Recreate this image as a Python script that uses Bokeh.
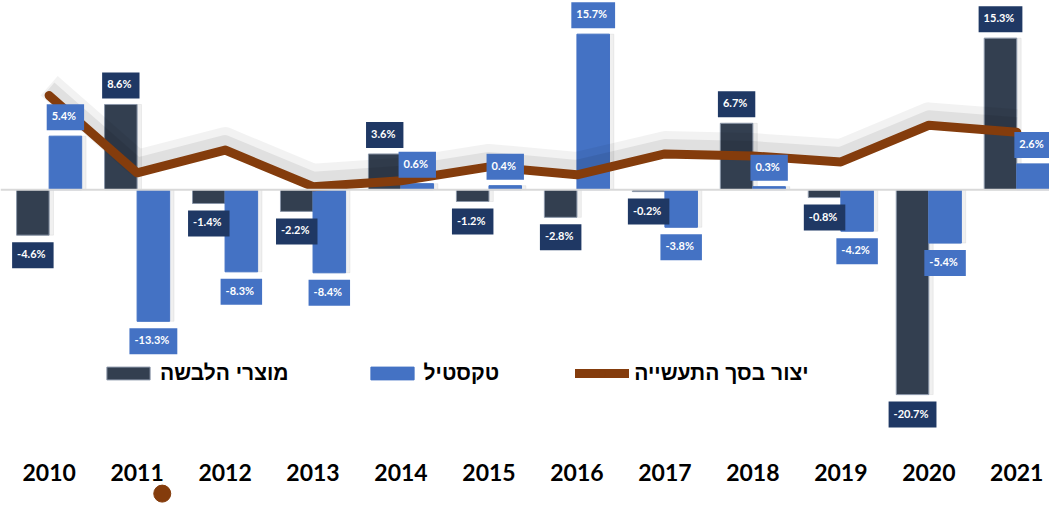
from bokeh.plotting import figure
from bokeh.models import ColumnDataSource, Range1d, Span, Legend, LegendItem
from bokeh.core.properties import value
from bokeh.embed import file_html
from bokeh.resources import INLINE

years = ["2010", "2011", "2012", "2013", "2014", "2015", "2016", "2017", "2018", "2019", "2020", "2021"]
apparel = [-4.6, 8.6, -1.4, -2.2, 3.6, -1.2, -2.8, -0.2, 6.7, -0.8, -20.7, 15.3]      # מוצרי הלבשה
textile = [5.4, -13.3, -8.3, -8.4, 0.6, 0.4, 15.7, -3.8, 0.3, -4.2, -5.4, 2.6]        # טקסטיל
industry = [9.5, 1.7, 4.0, 0.3, 0.9, 2.3, 1.5, 3.6, 3.4, 2.8, 6.5, 5.8]               # יצור בסך התעשייה (estimated)

names = ["מוצרי הלבשה", "טקסטיל", "יצור בסך התעשייה"]

DARK = "#333F50"
BLUE = "#4472C4"
NAVY = "#1F3864"
BROWN = "#843C0C"

idx = list(range(len(years)))
W, H = 1049, 505
p = figure(width=W, height=H, x_range=Range1d(-0.5528, 11.372), y_range=Range1d(-31.9, 19.1),
           output_backend="svg", toolbar_location=None, x_axis_location=None, y_axis_location=None,
           min_border=0, outline_line_color=None)
p.grid.visible = False
p.background_fill_color = "white"

p.add_layout(Span(location=0, dimension="width", line_color="#D9D9D9", line_width=2))

bw = 0.37
off = 0.185
src_d = ColumnDataSource(dict(x=[i - off for i in idx], top=apparel,
                              lbl=[f"{v:.1f}%" for v in apparel],
                              yo=[-19 if v > 0 else 20 for v in apparel]))
src_b = ColumnDataSource(dict(x=[i + off for i in idx], top=textile,
                              lbl=[f"{v:.1f}%" for v in textile],
                              yo=[-19 if v > 0 else 20 for v in textile]))

# subtle bar shadows
p.vbar(x=[i - off + 0.05 for i in idx], top=apparel, width=bw, color="#000000", alpha=0.06)
p.vbar(x=[i + off + 0.05 for i in idx], top=textile, width=bw, color="#000000", alpha=0.06)

r_d = p.vbar(x="x", top="top", width=bw, source=src_d, fill_color=DARK, line_color="#8A96A8", line_width=1)
r_b = p.vbar(x="x", top="top", width=bw, source=src_b, fill_color=BLUE, line_color=BLUE)

# line shadow (soft, above the line)
p.line(idx, [v + 1.0 for v in industry], line_color="#000000", line_alpha=0.05, line_width=26, line_join="round")
p.line(idx, [v + 0.7 for v in industry], line_color="#000000", line_alpha=0.07, line_width=16, line_join="round")
r_l = p.line(idx, industry, line_color=BROWN, line_width=9, line_join="round", line_cap="round")

# stray marker at the bottom (legend marker artifact)
stray_x, stray_y = [1.286], [-30.7]
r_dot = p.scatter(stray_x, stray_y, size=17, fill_color=BROWN, line_color=BROWN)

for src, bg in ((src_d, NAVY), (src_b, BLUE)):
    p.text(x="x", y="top", text="lbl", source=src, y_offset="yo", text_align="center",
           text_baseline="middle", text_color="white", text_font=value("Lato"),
           text_font_style="bold", text_font_size="11px", background_fill_color=bg,
           padding=[5, 8, 5, 8])

# year labels
p.text(x=idx, y=[-28.6] * len(idx), text=years, text_align="center", text_baseline="middle",
       text_color="black", text_font=value("Lato"), text_font_style="bold", text_font_size="23px")

legend = Legend(items=[LegendItem(label=names[0], renderers=[r_d]),
                       LegendItem(label=names[1], renderers=[r_b]),
                       LegendItem(label=names[2], renderers=[r_l, r_dot])],
                orientation="horizontal", location=(101, 120), glyph_width=54, glyph_height=16,
                label_standoff=5, spacing=76, padding=0, margin=0, border_line_color=None,
                background_fill_alpha=0, label_text_font="Liberation Sans",
                label_text_font_style="bold", label_text_font_size="21px", label_text_color="black")
p.add_layout(legend, "center")

open("out.html", "w").write(file_html(p, INLINE))
